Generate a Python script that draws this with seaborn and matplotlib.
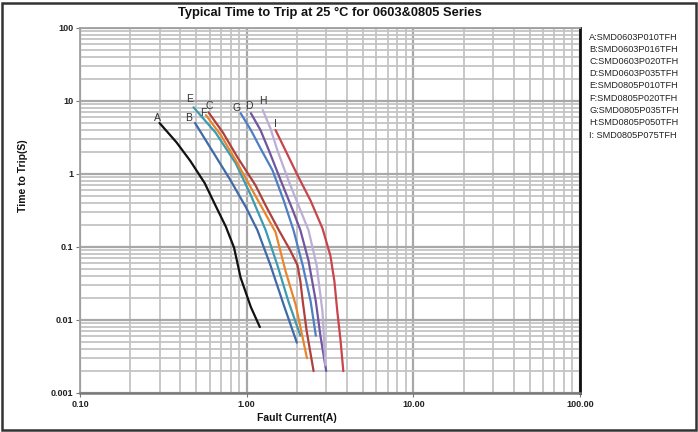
import numpy as np
import pandas as pd
import matplotlib
matplotlib.use("Agg")
import matplotlib.pyplot as plt
from matplotlib.patches import Rectangle
from matplotlib.ticker import FixedLocator, NullFormatter
import seaborn as sns

# ---------------- data ----------------
series_names = ["A", "B", "C", "D", "E", "F", "G", "H", "I"]
legend_labels = [
    "A:SMD0603P010TFH", "B:SMD0603P016TFH", "C:SMD0603P020TFH",
    "D:SMD0603P035TFH", "E:SMD0805P010TFH", "F:SMD0805P020TFH",
    "G:SMD0805P035TFH", "H:SMD0805P050TFH", "I: SMD0805P075TFH",
]

a_current = [0.30, 0.38, 0.46, 0.56, 0.65, 0.75, 0.84, 0.92, 1.06, 1.20]
a_time = [5.0, 2.7, 1.5, 0.75, 0.37, 0.19, 0.098, 0.038, 0.015, 0.008]

b_current = [0.49, 0.62, 0.80, 0.99, 1.16, 1.39, 1.67, 2.00]
b_time = [5.0, 2.1, 0.82, 0.35, 0.17, 0.056, 0.016, 0.0049]

c_current = [0.59, 0.72, 0.88, 1.13, 1.30, 1.56, 1.83, 2.02, 2.10, 2.17, 2.29, 2.52]
c_time = [7.0, 3.7, 1.7, 0.70, 0.37, 0.17, 0.089, 0.056, 0.034, 0.018, 0.0071, 0.002]

d_current = [1.06, 1.21, 1.36, 1.60, 1.89, 2.10, 2.35, 2.60, 2.77, 3.00]
d_time = [6.8, 4.0, 2.1, 0.82, 0.32, 0.17, 0.065, 0.018, 0.0061, 0.002]

e_current = [0.48, 0.65, 0.86, 1.06, 1.30, 1.53, 1.78, 2.10]
e_time = [8.2, 3.7, 1.4, 0.51, 0.17, 0.056, 0.018, 0.0061]

f_current = [0.57, 0.70, 0.86, 1.06, 1.26, 1.49, 1.71, 1.97, 2.30]
f_time = [6.4, 3.4, 1.54, 0.65, 0.32, 0.16, 0.047, 0.016, 0.003]

g_current = [0.92, 1.06, 1.21, 1.43, 1.67, 1.91, 2.17, 2.42, 2.60]
g_time = [6.8, 4.0, 2.25, 1.12, 0.43, 0.17, 0.056, 0.018, 0.0061]

h_current = [1.25, 1.39, 1.53, 1.78, 2.10, 2.35, 2.63, 2.85, 2.97]
h_time = [7.5, 4.2, 2.1, 0.82, 0.32, 0.17, 0.056, 0.013, 0.0024]

i_current = [1.49, 1.71, 2.02, 2.42, 2.85, 3.18, 3.36, 3.50, 3.66, 3.80]
i_time = [4.0, 2.1, 0.96, 0.43, 0.18, 0.076, 0.034, 0.013, 0.0052, 0.002]

x_ticks = [0.1, 1, 10, 100]
x_tick_labels = ["0.10", "1.00", "10.00", "100.00"]
y_ticks = [0.001, 0.01, 0.1, 1, 10, 100]
y_tick_labels = ["0.001", "0.01", "0.1", "1", "10", "100"]

title = "Typical Time to Trip at 25 \u00b0C for 0603&0805 Series"
x_label = "Fault Current(A)"
y_label = "Time to Trip(S)"

colors = {
    "A": "#111111", "B": "#3F6AA8", "C": "#B0403C", "D": "#7155A0",
    "E": "#3C9BAF", "F": "#E8862E", "G": "#4D7FC4", "H": "#BCAED6",
    "I": "#C9444C",
}
# letter offsets (pixels) from each curve's first point
label_offsets = {
    "A": (-2, 5), "B": (-6, 5), "C": (1, 6), "D": (-2, 7), "E": (-4, 8),
    "F": (-3, 2), "G": (-4, 5), "H": (0, 9), "I": (0, 6),
}

currents = [a_current, b_current, c_current, d_current, e_current,
            f_current, g_current, h_current, i_current]
times = [a_time, b_time, c_time, d_time, e_time, f_time, g_time, h_time, i_time]

rows = []
for name, xs, ys in zip(series_names, currents, times):
    for xv, yv in zip(xs, ys):
        rows.append({"series": name, "current": xv, "time": yv})
df = pd.DataFrame(rows)

# ---------------- figure ----------------
sns.set_theme(style="white")
plt.rcParams["font.family"] = ["Liberation Sans", "DejaVu Sans"]

W, H = 698, 432
fig = plt.figure(figsize=(W / 100, H / 100), dpi=100)
ax = fig.add_axes([80 / W, 1 - 393 / H, (580 - 80) / W, (393 - 28) / H])

ax.set_xscale("log")
ax.set_yscale("log")
ax.set_xlim(0.1, 100)
ax.set_ylim(0.001, 100)

# grid
minor_x = [m * 10.0 ** e for e in range(-1, 2) for m in range(2, 10)]
minor_y = [m * 10.0 ** e for e in range(-3, 2) for m in range(2, 10)]
ax.xaxis.set_major_locator(FixedLocator(x_ticks))
ax.yaxis.set_major_locator(FixedLocator(y_ticks))
ax.xaxis.set_minor_locator(FixedLocator(minor_x))
ax.yaxis.set_minor_locator(FixedLocator(minor_y))
ax.xaxis.set_minor_formatter(NullFormatter())
ax.yaxis.set_minor_formatter(NullFormatter())
ax.set_xticklabels(x_tick_labels)
ax.set_yticklabels(y_tick_labels)
ax.grid(which="major", color="#A8A8A8", lw=1.6)
ax.grid(which="minor", color="#C4C4C4", lw=1.3)
ax.set_axisbelow(True)

sns.lineplot(data=df, x="current", y="time", hue="series", units="series",
             estimator=None, sort=False, palette=colors, lw=1.6,
             legend=False, ax=ax)

# curve letters at each curve's start
for name, xs, ys in zip(series_names, currents, times):
    ax.annotate(name, (xs[0], ys[0]), xytext=label_offsets[name],
                textcoords="offset pixels", ha="center", va="center",
                fontsize=7.5, color="#333333")

# spines
for s in ["left", "top"]:
    ax.spines[s].set_color("#A0A0A0")
    ax.spines[s].set_linewidth(1.3)
ax.spines["bottom"].set_color("#7A7A7A")
ax.spines["bottom"].set_linewidth(1.8)
ax.spines["right"].set_color("#111111")
ax.spines["right"].set_linewidth(2.0)

ax.tick_params(axis="both", which="major", length=3, width=0.8, color="#777777",
               labelsize=6.5, pad=2, direction="out", bottom=True, left=True)
ax.tick_params(axis="both", which="minor", length=0)
for lab in ax.get_xticklabels() + ax.get_yticklabels():
    lab.set_fontweight("bold")
    lab.set_color("#222222")

ax.set_xlabel(x_label, fontsize=7.5, fontweight="bold", color="#111111")
ax.set_ylabel(y_label, fontsize=7.5, fontweight="bold", color="#111111")
ax.xaxis.set_label_coords((297 - 80) / 500, -(413 - 393) / 365)
ax.yaxis.set_label_coords(-(80 - 28) / 500, (393 - 176) / 365)

fig.text(330 / W, 1 - 13 / H, title, ha="center", va="center",
         fontsize=9.3, fontweight="bold", color="#111111")

# legend text on the right
for k, lab in enumerate(legend_labels):
    fig.text(589 / W, 1 - (37 + 12.25 * k) / H, lab, ha="left", va="center",
             fontsize=6.6, color="#222222")

# outer frame
fig.patches.append(Rectangle((2 / W, 2 / H), 694 / W, 427 / H, fill=False,
                             edgecolor="#333333", lw=1.8,
                             transform=fig.transFigure, figure=fig))

fig.savefig("out.png", dpi=100)
